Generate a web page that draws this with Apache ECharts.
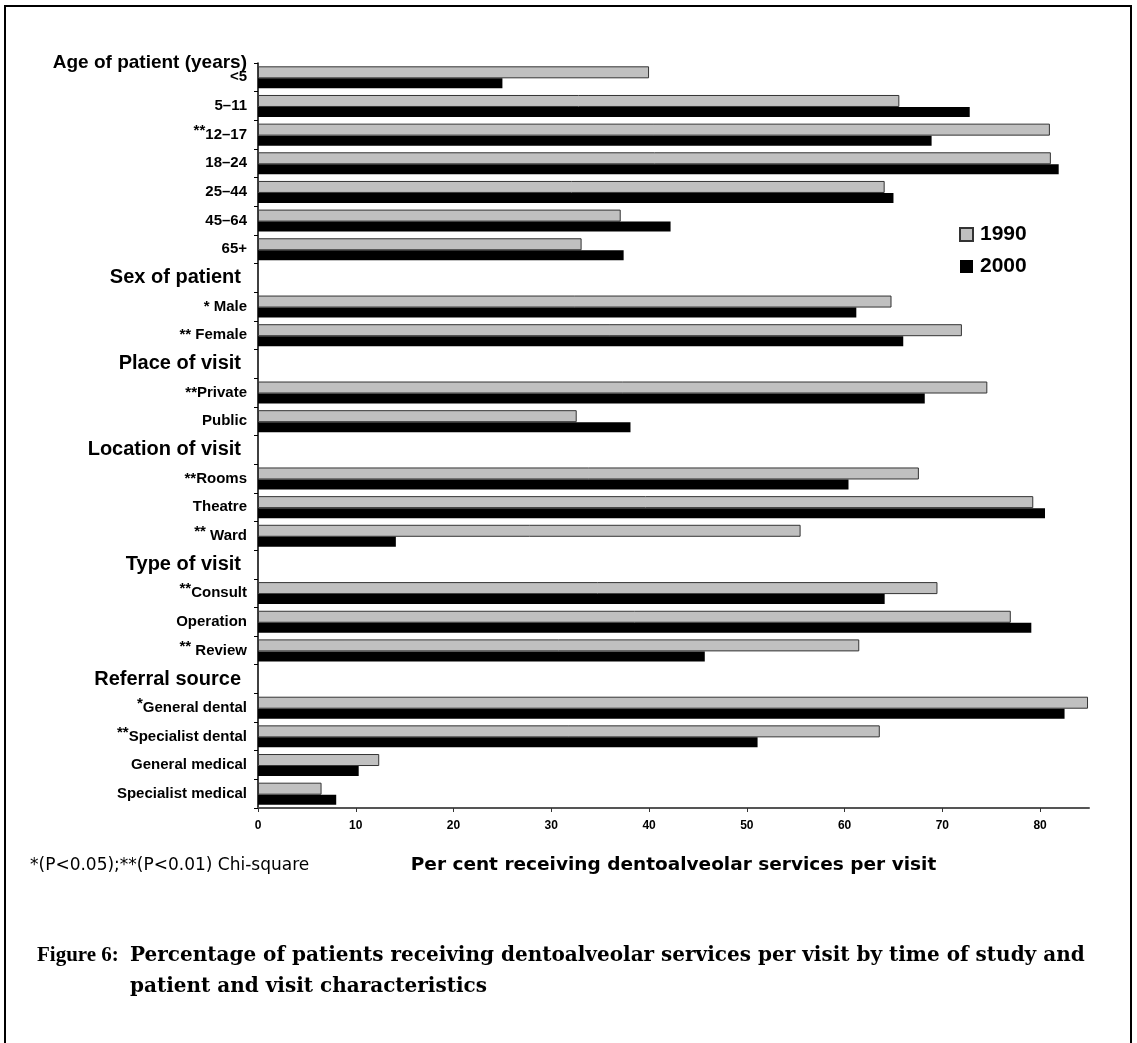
<!DOCTYPE html>
<html>
<head>
<meta charset="utf-8">
<script src="https://cdn.jsdelivr.net/npm/echarts@6/dist/echarts.min.js"></script>
<style>
  html, body { margin: 0; padding: 0; background: #fff; }
  #chart { width: 1137px; height: 1043px; }
</style>
</head>
<body>
<div id="chart"></div>
<script>
// rows of the chart, top to bottom (heading rows have no bars)
var categories = ['<5', '5–11', '12–17', '18–24', '25–44', '45–64', '65+',
  'Sex of patient', 'Male', 'Female',
  'Place of visit', 'Private', 'Public',
  'Location of visit', 'Rooms', 'Theatre', 'Ward',
  'Type of visit', 'Consult', 'Operation', 'Review',
  'Referral source', 'General dental', 'Specialist dental', 'General medical', 'Specialist medical'];
var headings = ['Sex of patient', 'Place of visit', 'Location of visit', 'Type of visit', 'Referral source'];
// significance marks, some of them written raised
var marks = { '12–17': '**', 'Male': '* ', 'Female': '** ', 'Private': '**', 'Rooms': '**',
  'Ward': '** ', 'Consult': '**', 'Review': '** ', 'General dental': '*', 'Specialist dental': '**' };
var raised = ['12–17', 'Ward', 'Consult', 'Review', 'General dental', 'Specialist dental'];

var years = ['1990', '2000'];
var v1990 = [40.0, 65.6, 81.0, 81.1, 64.1, 37.1, 33.1, null, 64.8, 72.0, null, 74.6, 32.6, null,
  67.6, 79.3, 55.5, null, 69.5, 77.0, 61.5, null, 84.9, 63.6, 12.4, 6.5];
var v2000 = [25.0, 72.8, 68.9, 81.9, 65.0, 42.2, 37.4, null, 61.2, 66.0, null, 68.2, 38.1, null,
  60.4, 80.5, 14.1, null, 64.1, 79.1, 45.7, null, 82.5, 51.1, 10.3, 8.0];
var xTicks = [0, 10, 20, 30, 40, 50, 60, 70, 80];

var FONT = 'Liberation Sans, Arial, sans-serif';
var WIDE = 'DejaVu Sans, sans-serif';
var SERIF = 'DejaVu Serif, serif';

function rowLabel(name) {
  if (headings.indexOf(name) >= 0) return '{h|' + name + '}';
  var m = marks[name] || '';
  if (m && raised.indexOf(name) >= 0) return '{sr|' + m + '}{l|' + name + '}';
  return '{l|' + m + name + '}';
}

var chart = echarts.init(document.getElementById('chart'));

var option = {
  animation: false,
  backgroundColor: '#fff',
  textStyle: { fontFamily: FONT, color: '#000' },
  grid: { left: 258, top: 63, right: 48, bottom: 235 },
  legend: {
    data: years,
    orient: 'vertical',
    left: 959,
    top: 224,
    padding: 0,
    icon: 'rect',
    itemWidth: 13,
    itemHeight: 13,
    itemGap: 11,
    textStyle: { fontSize: 21, fontWeight: 'bold', color: '#000', fontFamily: FONT, padding: [0, 0, 0, 2] }
  },
  xAxis: {
    type: 'value',
    min: 0,
    max: 85,
    interval: 10,
    name: 'Per cent receiving dentoalveolar services per visit',
    nameLocation: 'middle',
    nameGap: 48,
    nameTextStyle: { fontSize: 18.5, fontWeight: 'bold', color: '#000', fontFamily: WIDE },
    splitLine: { show: false },
    axisLine: { show: true, lineStyle: { color: '#555', width: 2 } },
    axisTick: { show: true, length: 4, lineStyle: { color: '#333' }, customValues: xTicks },
    axisLabel: { fontSize: 12, fontWeight: 'bold', color: '#000', margin: 12, customValues: xTicks }
  },
  yAxis: {
    type: 'category',
    data: categories,
    inverse: true,
    axisLine: { show: true, lineStyle: { color: '#000', width: 1.5 } },
    axisTick: { show: true, length: 4, interval: 0, lineStyle: { color: '#000' } },
    axisLabel: {
      interval: 0,
      margin: 11,
      formatter: rowLabel,
      rich: {
        l: { fontSize: 15, fontWeight: 'bold', color: '#000', fontFamily: FONT },
        sr: { fontSize: 15, fontWeight: 'bold', color: '#000', fontFamily: FONT, padding: [0, 0, 8, 0] },
        h: { fontSize: 20, fontWeight: 'bold', color: '#000', fontFamily: FONT, padding: [0, 6, 0, 0] }
      }
    }
  },
  series: [
    {
      name: '1990',
      type: 'bar',
      data: v1990,
      barGap: '0%',
      barWidth: 12,
      itemStyle: { color: '#c0c0c0', borderColor: '#333', borderWidth: 1 }
    },
    {
      name: '2000',
      type: 'bar',
      data: v2000,
      barGap: '0%',
      barWidth: 10,
      itemStyle: { color: '#000' }
    }
  ],
  graphic: [
    {
      type: 'rect', silent: true, z: 100,
      shape: { x: 5, y: 6, width: 1126, height: 1100 },
      style: { fill: null, stroke: '#000', lineWidth: 2 }
    },
    {
      type: 'text', x: 247, y: 63,
      style: { text: 'Age of patient (years)', font: 'bold 19px ' + FONT, fill: '#000',
        textAlign: 'right', textVerticalAlign: 'middle' }
    },
    {
      type: 'text', x: 30, y: 866,
      style: { text: '*(P<0.05);**(P<0.01) Chi-square', font: '17px ' + WIDE, fill: '#000',
        textAlign: 'left', textVerticalAlign: 'middle' }
    },
    {
      type: 'text', x: 37, y: 956,
      style: { text: 'Figure 6:', font: 'bold 21px Liberation Serif, serif', fill: '#000',
        textAlign: 'left', textVerticalAlign: 'middle' }
    },
    {
      type: 'text', x: 130, y: 956,
      style: { text: 'Percentage of patients receiving dentoalveolar services per visit by time of study and',
        font: 'bold 20px ' + SERIF, fill: '#000', textAlign: 'left', textVerticalAlign: 'middle' }
    },
    {
      type: 'text', x: 130, y: 987,
      style: { text: 'patient and visit characteristics',
        font: 'bold 20px ' + SERIF, fill: '#000', textAlign: 'left', textVerticalAlign: 'middle' }
    }
  ]
};

chart.setOption(option);
</script>
</body>
</html>
